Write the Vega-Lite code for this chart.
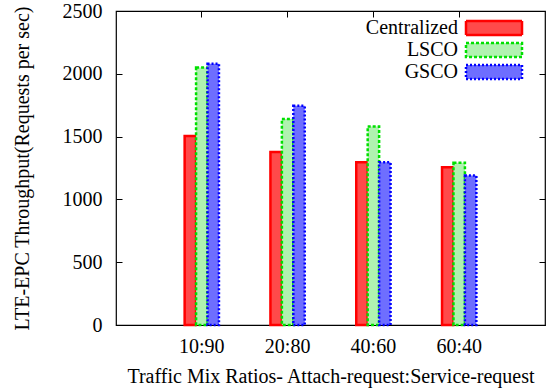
{
  "$schema": "https://vega.github.io/schema/vega-lite/v6.json",
  "width": 429,
  "height": 314,
  "autosize": {"type": "none"},
  "padding": {"left": 116, "top": 11, "right": 10, "bottom": 66},
  "background": "white",
  "config": {
    "font": "Liberation Serif",
    "view": {"stroke": "black", "strokeWidth": 1.2},
    "axis": {"labelFont": "Liberation Serif", "titleFont": "Liberation Serif", "labelFontSize": 20, "titleFontSize": 20, "labelColor": "black", "titleColor": "black", "titleFontWeight": "normal", "grid": false, "domain": false, "tickColor": "black", "tickSize": -6, "tickWidth": 1},
    "legend": {"labelFont": "Liberation Serif", "labelFontSize": 20, "labelColor": "black"}
  },
  "data": {"values": [
    {"ratio": "10:90", "series": "Centralized", "value": 1505},
    {"ratio": "10:90", "series": "LSCO", "value": 2050},
    {"ratio": "10:90", "series": "GSCO", "value": 2080},
    {"ratio": "20:80", "series": "Centralized", "value": 1378},
    {"ratio": "20:80", "series": "LSCO", "value": 1640},
    {"ratio": "20:80", "series": "GSCO", "value": 1745},
    {"ratio": "40:60", "series": "Centralized", "value": 1295},
    {"ratio": "40:60", "series": "LSCO", "value": 1580},
    {"ratio": "40:60", "series": "GSCO", "value": 1295},
    {"ratio": "60:40", "series": "Centralized", "value": 1255},
    {"ratio": "60:40", "series": "LSCO", "value": 1292},
    {"ratio": "60:40", "series": "GSCO", "value": 1190}
  ]},
  "layer": [
    {
      "mark": {"type": "bar", "strokeWidth": 2.5},
      "encoding": {
        "x": {"field": "ratio", "type": "nominal", "sort": null,
          "scale": {"paddingInner": 0.6, "paddingOuter": 0.8},
          "axis": {"orient": "bottom", "labelAngle": 0, "labelPadding": 17, "labelFont": "Liberation Serif", "titleFont": "Liberation Serif", "title": "Traffic Mix Ratios- Attach-request:Service-request", "titlePadding": 10}},
        "xOffset": {"field": "series", "type": "nominal", "sort": ["Centralized", "LSCO", "GSCO"]},
        "y": {"field": "value", "type": "quantitative",
          "scale": {"domain": [0, 2500], "nice": false},
          "axis": {"orient": "left", "values": [0, 500, 1000, 1500, 2000, 2500], "format": "d", "labelPadding": 20, "labelFont": "Liberation Serif", "titleFont": "Liberation Serif", "title": "LTE-EPC Throughput(Requests per sec)", "titlePadding": 30}},
        "fill": {"field": "series", "type": "nominal", "sort": ["Centralized", "LSCO", "GSCO"],
          "scale": {"domain": ["Centralized", "LSCO", "GSCO"], "range": ["#ff4a4a", "#b0f2b0", "#6e6eff"]},
          "legend": {"title": null, "orient": "none", "legendX": 368, "legendY": 7, "labelAlign": "right", "labelOffset": -46, "symbolType": "M-4,-1H4V1H-4Z", "symbolSize": 196, "symbolStrokeWidth": 2.5, "rowPadding": -5, "labelLimit": 300}},
        "stroke": {"field": "series", "type": "nominal", "sort": ["Centralized", "LSCO", "GSCO"],
          "scale": {"domain": ["Centralized", "LSCO", "GSCO"], "range": ["#ff0000", "#00e000", "#0000ff"]}},
        "strokeDash": {"field": "series", "type": "nominal", "sort": ["Centralized", "LSCO", "GSCO"],
          "scale": {"domain": ["Centralized", "LSCO", "GSCO"], "range": [[1, 0], [3, 2], [2, 2]]}}
      }
    },
    {
      "mark": {"type": "bar", "opacity": 0},
      "encoding": {
        "x": {"field": "ratio", "type": "nominal", "sort": null,
          "scale": {"paddingInner": 0.6, "paddingOuter": 0.8},
          "axis": {"orient": "top", "labels": false, "title": null}},
        "xOffset": {"field": "series", "type": "nominal", "sort": ["Centralized", "LSCO", "GSCO"]},
        "y": {"field": "value", "type": "quantitative",
          "scale": {"domain": [0, 2500], "nice": false},
          "axis": {"orient": "right", "values": [0, 500, 1000, 1500, 2000, 2500], "labels": false, "title": null}}
      }
    }
  ],
  "resolve": {"axis": {"x": "independent", "y": "independent"}}
}
